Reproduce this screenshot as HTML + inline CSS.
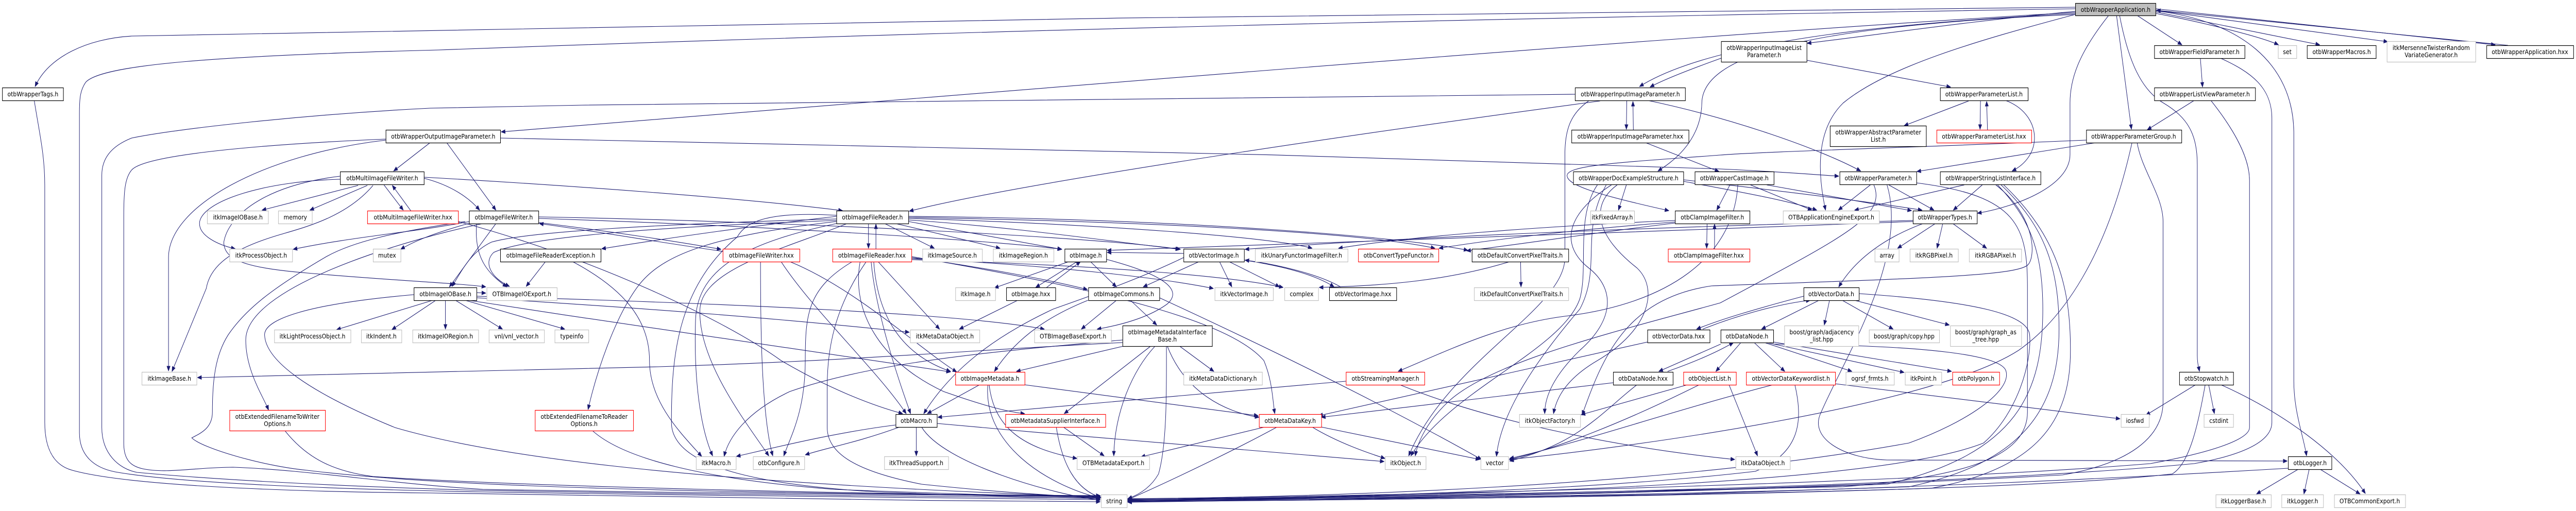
<!DOCTYPE html>
<html><head><meta charset="utf-8">
<style>
html,body{margin:0;padding:0;background:#fff;width:100%;height:100%;overflow:hidden;}
svg{display:block;width:100vw;height:100vh;}
.e path{fill:none;stroke:#191970;stroke-width:1.1;marker-end:url(#ah);}
.n rect{fill:#fff;stroke-width:1.2;}
.n .b{stroke:#000;}
.n .g{stroke:#bfbfbf;}
.n .r{stroke:#ff0000;}
.n .root{fill:#bfbfbf;stroke:#000;}
.n text{font-family:"DejaVu Sans","Liberation Sans",sans-serif;font-size:12.8px;fill:#000;text-anchor:middle;}
</style></head>
<body>
<svg viewBox="0 0 5870 992" preserveAspectRatio="none" xmlns="http://www.w3.org/2000/svg">
<defs>
<marker id="ah" viewBox="0 0 10 10" refX="10" refY="5" markerWidth="10" markerHeight="9" markerUnits="userSpaceOnUse" orient="auto">
<path d="M0,1 L10,5 L0,9z" fill="#191970" stroke="#191970"/>
</marker>
</defs>
<g class="e">
<path d="M4729,14 C3500,22 1500,45 300,70 C200,75 110,110 80,168"/>
<path d="M4729,17 C3800,30 2500,50 1000,97 C500,108 230,125 195,160 C183,175 181,190 181,220 L181,840 C181,885 215,908 262,916 C420,940 800,950 1100,955 C1600,962 2200,968 2507,970"/>
<path d="M4729,22 C4500,40 4300,65 4118,84"/>
<path d="M4732,26 C4300,45 3900,80 3736,168"/>
<path d="M4729,24 C3800,70 2400,170 1142,256"/>
<path d="M4735,28 C4100,50 3880,110 3878,200 C3876,280 3800,320 3778,332"/>
<path d="M4823,30 L4857,251"/>
<path d="M4870,30 L4972,87"/>
<path d="M4912,26 C5000,40 5150,70 5192,87"/>
<path d="M4912,23 L5286,87"/>
<path d="M4912,20 L5441,81"/>
<path d="M4912,17 L5686,87"/>
<path d="M5715,88 L4914,20"/>
<path d="M4912,21 C5100,40 5227,120 5227,260 L5227,740 C5227,800 5250,850 5256,885"/>
<path d="M4830,30 C4850,120 4880,175 4930,200 C4985,228 5007,260 5007,320 L5007,690 C5007,705 5010,712 5012,721"/>
<path d="M4729,28 C4500,80 4300,130 4200,200 C4140,250 4140,330 4160,408"/>
<path d="M4805,30 C4740,100 4717,150 4717,200 L4717,300 C4717,360 4600,400 4506,414"/>
<path d="M4117,117 L4445,169"/>
<path d="M3922,113 C3850,135 3790,155 3760,169"/>
<path d="M5014,113 L5019,169"/>
<path d="M5060,113 C5130,140 5177,170 5177,230 L5177,820 C5177,860 5100,885 5000,900 C4500,940 3500,962 2570,972"/>
<path d="M5000,195 L4893,252"/>
<path d="M5038,195 C5080,240 5126,300 5126,350 L5126,830 C5126,850 5060,875 4900,900 C4400,935 3400,958 2570,970"/>
<path d="M4486,196 L4339,244"/>
<path d="M4513,196 L4512,251"/>
<path d="M4529,252 L4527,197"/>
<path d="M4570,195 C4650,220 4660,300 4585,332"/>
<path d="M3707,195 L3706,251"/>
<path d="M3722,252 L3721,197"/>
<path d="M3755,195 C3950,230 4150,290 4240,332"/>
<path d="M3646,196 C3000,270 2300,360 2072,410"/>
<path d="M3589,183 C3000,185 1960,192 980,210 C700,222 400,250 300,268 C250,285 232,310 232,340 L232,830 C232,880 270,910 312,917 C500,932 800,945 1100,952 C1600,960 2200,966 2507,967"/>
<path d="M3620,196 C3580,220 3566,250 3566,300 L3566,500 C3566,600 3300,700 3210,885"/>
<path d="M3750,277 L3917,333"/>
<path d="M1018,277 L1130,408"/>
<path d="M1140,268 C2000,280 3000,300 3920,328 C4050,333 4120,338 4190,342"/>
<path d="M980,277 L897,332"/>
<path d="M879,272 C600,300 384,400 384,500 L384,720"/>
<path d="M879,270 C600,280 330,300 300,330 C285,345 282,370 282,420 L282,860 C282,895 300,905 325,910 C380,920 450,907 531,907 C700,912 900,940 1100,950 C1600,958 2200,962 2507,964"/>
<path d="M816,360 L597,408"/>
<path d="M837,360 L706,408"/>
<path d="M875,359 L919,408"/>
<path d="M936,409 L894,360"/>
<path d="M775,348 C600,352 465,390 455,430 C450,458 500,476 536,483"/>
<path d="M850,360 C790,420 700,440 640,455 C540,480 480,510 470,560 L392,721"/>
<path d="M966,346 C1030,360 1070,385 1093,408"/>
<path d="M966,344 C1300,360 1700,385 1920,409"/>
<path d="M775,342 C600,360 520,420 510,470 C510,505 560,520 700,530 C900,545 1050,550 1107,557"/>
<path d="M1100,434 C900,470 560,560 560,660 C560,720 600,770 612,796"/>
<path d="M1070,430 C950,450 800,460 668,484"/>
<path d="M1075,432 C1000,450 950,465 913,484"/>
<path d="M1130,434 L1024,557"/>
<path d="M1086,434 C1080,500 1110,530 1155,557"/>
<path d="M1227,432 C1400,450 1550,470 1643,484"/>
<path d="M1647,488 C1500,470 1350,448 1229,434"/>
<path d="M1227,424 C1800,440 2300,470 2420,484"/>
<path d="M1227,421 C1800,430 2500,460 2690,484"/>
<path d="M1060,430 C900,450 800,470 740,500 C620,560 560,600 520,650 C490,690 484,740 484,800 C484,830 460,840 437,850 C460,870 600,905 700,913 C1000,945 1600,958 2507,962"/>
<path d="M1044,430 C1350,500 1650,620 1780,700 C1900,760 2000,790 2057,803"/>
<path d="M1242,509 L1199,556"/>
<path d="M1305,508 C1420,560 1480,620 1480,700 C1480,780 1550,840 1599,886"/>
<path d="M1906,420 C1700,440 1500,465 1371,483"/>
<path d="M1979,434 L1979,482"/>
<path d="M1996,483 L1996,435"/>
<path d="M2016,434 L2129,482"/>
<path d="M2041,434 L2279,482"/>
<path d="M2070,430 L2419,484"/>
<path d="M2070,427 C2300,440 2500,465 2688,484"/>
<path d="M1906,430 C1600,460 1500,500 1450,560 C1400,620 1360,720 1340,795"/>
<path d="M1906,428 C1500,440 1200,460 1125,490 C1100,510 1120,540 1161,556"/>
<path d="M1906,425 C1500,435 1200,450 1120,470 C1070,490 1050,530 1030,556"/>
<path d="M1917,432 C1700,470 1590,520 1585,620 C1580,750 1600,840 1624,885"/>
<path d="M1930,434 C1800,480 1600,520 1595,600 C1590,700 1700,820 1752,885"/>
<path d="M1906,418 C1750,410 1700,430 1680,460 C1540,560 1530,700 1530,820 C1530,900 1700,940 2000,955 C2200,962 2400,966 2507,968"/>
<path d="M2070,422 C2600,430 3100,450 3270,482"/>
<path d="M2070,420 C2700,425 3200,460 3345,486"/>
<path d="M2070,424 C2500,435 2900,460 2990,482"/>
<path d="M1985,508 C1995,600 2040,720 2075,803"/>
<path d="M2001,508 L2141,639"/>
<path d="M1991,508 C2000,620 2060,690 2166,721"/>
<path d="M1942,508 C1840,560 1835,610 1835,700 C1835,800 1800,850 1786,885"/>
<path d="M1973,509 C1900,600 1885,680 1885,750 L1885,830 C1885,880 1950,915 2100,940 C2300,958 2450,964 2507,966"/>
<path d="M2077,500 C2250,520 2400,545 2478,562"/>
<path d="M2077,502 C2400,515 2650,540 2765,560"/>
<path d="M2077,504 C2500,515 2800,535 2924,558"/>
<path d="M1960,508 C1940,600 2000,700 2150,760 C2250,790 2300,800 2335,803"/>
<path d="M2077,498 C2500,560 2800,620 2880,700 C2900,740 2900,780 2905,803"/>
<path d="M1733,508 C1733,600 1733,800 1761,885"/>
<path d="M1800,508 C1950,560 2100,680 2180,722"/>
<path d="M1780,508 C1850,600 2000,720 2065,803"/>
<path d="M2435,508 L2266,559"/>
<path d="M2454,508 L2360,558"/>
<path d="M2385,558 L2462,508"/>
<path d="M2485,508 L2544,557"/>
<path d="M2519,503 C2640,530 2700,560 2660,590 C2620,615 2560,630 2500,639"/>
<path d="M2319,583 L2186,639"/>
<path d="M2544,583 L2464,639"/>
<path d="M2576,583 L2636,631"/>
<path d="M2479,583 C2400,610 2320,650 2266,721"/>
<path d="M2642,578 C2800,640 3100,760 3376,892"/>
<path d="M2779,508 L2807,557"/>
<path d="M2732,508 L2605,557"/>
<path d="M2801,508 L2916,557"/>
<path d="M2835,505 C2950,520 3010,540 3040,557"/>
<path d="M3055,557 C3000,530 2900,512 2837,505"/>
<path d="M2697,492 L2523,490"/>
<path d="M2697,500 C2600,540 2500,570 2400,600 C2300,640 2180,700 2105,803"/>
<path d="M2560,672 L2316,721"/>
<path d="M2688,672 L2766,721"/>
<path d="M2622,672 L2425,803"/>
<path d="M2632,672 C2580,720 2540,800 2538,885"/>
<path d="M2658,672 C2658,750 2660,860 2640,920 C2620,950 2590,962 2570,968"/>
<path d="M2660,672 C2700,760 2790,800 2869,810"/>
<path d="M2558,665 C2200,680 1960,700 1500,712 C1000,724 600,730 450,733"/>
<path d="M2232,747 L2113,803"/>
<path d="M2254,747 C2265,830 2330,870 2454,890"/>
<path d="M2251,747 C2240,860 2380,940 2507,967"/>
<path d="M2335,747 L2867,807"/>
<path d="M2088,829 L2088,885"/>
<path d="M2041,825 C1900,840 1760,870 1678,886"/>
<path d="M2050,829 C1950,860 1880,870 1835,883"/>
<path d="M2135,822 C2500,850 2900,880 3154,896"/>
<path d="M2100,829 C2150,900 2400,960 2507,971"/>
<path d="M2423,829 L2516,885"/>
<path d="M2407,829 C2420,900 2450,950 2509,966"/>
<path d="M2882,829 L2600,887"/>
<path d="M2910,829 C2800,880 2650,940 2570,970"/>
<path d="M3011,829 L3372,892"/>
<path d="M2990,829 C3050,860 3120,880 3156,890"/>
<path d="M3067,740 C2800,760 2400,790 2137,810"/>
<path d="M3190,747 C3400,820 3700,870 3953,892"/>
<path d="M3960,359 C3950,500 3800,590 3565,614 C3420,630 3300,680 3186,721"/>
<path d="M3465,508 L3466,557"/>
<path d="M3440,508 C3300,545 3150,555 3006,558"/>
<path d="M3890,434 L3889,482"/>
<path d="M3907,483 L3907,435"/>
<path d="M3817,428 C3500,440 3200,460 3050,482"/>
<path d="M3817,431 C3600,445 3400,465 3279,482"/>
<path d="M3817,433 C3650,450 3500,470 3342,487"/>
<path d="M3942,359 L3912,408"/>
<path d="M3989,359 L4129,408"/>
<path d="M4026,359 L4356,409"/>
<path d="M4754,272 C4400,285 4000,295 3920,301 C3700,315 3575,320 3571,340 C3568,360 3650,380 3803,409"/>
<path d="M4776,277 L4368,333"/>
<path d="M4870,277 C4880,330 4929,380 4929,430 L4929,780 C4929,850 4850,900 4700,922 C4000,955 3200,966 2570,974"/>
<path d="M4858,278 C4800,500 4700,620 4600,680 C4400,790 3700,870 3439,892"/>
<path d="M3706,359 L3688,408"/>
<path d="M3836,352 C3950,370 4080,390 4140,408"/>
<path d="M3836,349 C4000,365 4250,390 4380,408"/>
<path d="M3672,359 C3560,420 3560,480 3620,520 C3680,560 3680,620 3600,680 C3540,730 3520,770 3520,803"/>
<path d="M3685,359 C3620,400 3640,460 3730,520 C3780,560 3760,640 3640,700 C3560,740 3545,780 3540,803"/>
<path d="M3640,359 C3590,420 3620,520 3600,580 C3560,680 3300,760 3215,885"/>
<path d="M3660,359 C3600,450 3650,520 3600,600 C3500,700 3420,800 3410,886"/>
<path d="M4262,359 L4189,408"/>
<path d="M4304,359 L4407,408"/>
<path d="M4270,359 C4300,420 4200,460 3920,588 C3700,640 3400,700 3300,780 C3250,820 3230,860 3225,885"/>
<path d="M4367,355 C4600,380 4620,440 4620,560 L4620,800 C4620,880 4500,925 4200,945 C3500,962 3000,968 2570,973"/>
<path d="M4300,359 C4350,500 4200,700 4150,800 C4120,850 4200,890 4300,893 L5212,895"/>
<path d="M4476,359 L4226,408"/>
<path d="M4517,359 L4451,408"/>
<path d="M4552,359 C4620,420 4655,480 4655,600 C4655,760 4600,880 4300,940 C3600,962 3000,970 2570,971"/>
<path d="M4560,359 C4660,440 4692,520 4692,640 C4692,800 4600,900 4350,945 C3700,964 3000,970 2570,969"/>
<path d="M4566,359 C4690,460 4718,560 4718,680 C4718,820 4640,910 4400,948 C3700,966 3000,972 2570,972"/>
<path d="M4548,359 C4640,420 4640,500 4620,515 C4590,535 4400,540 3900,555 C3700,580 3650,700 3605,806"/>
<path d="M4410,434 L4324,482"/>
<path d="M4427,434 L4414,482"/>
<path d="M4450,434 L4527,482"/>
<path d="M4382,434 C4300,460 4230,500 4190,557"/>
<path d="M4359,428 C3800,440 3200,460 2837,484"/>
<path d="M4359,430 C3700,450 2900,480 2523,486"/>
<path d="M4110,575 C4000,600 3920,620 3866,639"/>
<path d="M3880,639 C3950,615 4050,590 4125,583"/>
<path d="M4145,583 L4014,639"/>
<path d="M4169,583 L4157,631"/>
<path d="M4198,583 L4314,639"/>
<path d="M4226,583 L4442,631"/>
<path d="M4236,570 C4500,585 4620,610 4625,650 C4630,700 4600,800 4520,860 C4300,935 3500,962 2570,970"/>
<path d="M3754,664 L3005,807"/>
<path d="M3676,743 L3011,810"/>
<path d="M3921,668 L3780,721"/>
<path d="M3800,721 C3870,700 3920,680 3950,665"/>
<path d="M3996,664 L4067,721"/>
<path d="M4021,665 L4220,721"/>
<path d="M4026,665 L4339,723"/>
<path d="M4041,664 L4447,721"/>
<path d="M3967,665 L3910,721"/>
<path d="M4041,668 C4400,670 4560,690 4571,720 C4585,760 4480,820 4350,860 C3800,945 3000,966 2570,968"/>
<path d="M3940,747 L4005,885"/>
<path d="M3872,747 C3700,820 3550,870 3440,892"/>
<path d="M3845,747 L3603,805"/>
<path d="M3730,747 C3650,800 3600,860 3440,895"/>
<path d="M4182,745 L4831,813"/>
<path d="M4090,747 C4110,820 4100,880 4000,915 C3600,955 3000,966 2570,972"/>
<path d="M4040,747 C3800,800 3600,860 3440,890"/>
<path d="M5003,747 L4890,806"/>
<path d="M5033,747 L5046,803"/>
<path d="M5061,747 C5200,800 5330,880 5390,958"/>
<path d="M5025,747 C5010,820 4990,900 4950,920 C4600,955 3500,968 2570,974"/>
<path d="M5237,911 L5142,959"/>
<path d="M5262,911 L5250,959"/>
<path d="M5287,911 L5378,959"/>
<path d="M5214,909 C4800,930 4400,945 3800,960 L2570,975"/>
<path d="M650,837 C700,890 760,915 850,925 C1200,945 2000,960 2507,963"/>
<path d="M1350,836 C1420,890 1600,930 1900,950 C2200,960 2400,964 2507,966"/>
<path d="M986,583 L767,640"/>
<path d="M993,583 L893,640"/>
<path d="M1015,583 L1015,639"/>
<path d="M1038,583 L1145,639"/>
<path d="M1060,583 L1287,639"/>
<path d="M1086,568 L1107,569"/>
<path d="M1068,583 C1500,640 2000,700 2166,722"/>
<path d="M943,572 C700,590 600,620 603,651 C606,700 700,760 900,830 C1100,880 1500,935 2507,965"/>
<path d="M1086,578 C1500,600 1800,620 2072,645"/>
<path d="M1086,575 C1700,590 2200,610 2380,639"/>
<path d="M78,195 C90,260 102,300 102,360 L102,820 C102,880 130,905 165,913 C300,945 700,955 980,957 C1500,965 2000,972 2507,974"/>
<path d="M2558,660 C2300,680 2000,700 1800,760 C1700,800 1660,850 1650,886"/>
</g>
<g class="n">
<rect class="root" x="4729.5" y="6.5" width="183" height="24"/><text x="4821" y="23">otbWrapperApplication.h</text>
<rect class="b" x="3922.5" y="80.5" width="195" height="40"/><text x="4020" y="97">otbWrapperInputImageList</text><text x="4020" y="111">Parameter.h</text>
<rect class="b" x="4909.5" y="88.5" width="206" height="25"/><text x="5012" y="105">otbWrapperFieldParameter.h</text>
<rect class="g" x="5191.5" y="88.5" width="42" height="25"/><text x="5212" y="105">set</text>
<rect class="b" x="5257.5" y="88.5" width="157" height="25"/><text x="5336" y="105">otbWrapperMacros.h</text>
<rect class="g" x="5439.5" y="80.5" width="202" height="40"/><text x="5540" y="97">itkMersenneTwisterRandom</text><text x="5540" y="111">VariateGenerator.h</text>
<rect class="b" x="5666.5" y="88.5" width="198" height="25"/><text x="5765" y="105">otbWrapperApplication.hxx</text>
<rect class="b" x="5.5" y="170.5" width="139" height="25"/><text x="75" y="187">otbWrapperTags.h</text>
<rect class="b" x="3589.5" y="170.5" width="251" height="25"/><text x="3715" y="187">otbWrapperInputImageParameter.h</text>
<rect class="b" x="4421.5" y="170.5" width="200" height="25"/><text x="4521" y="187">otbWrapperParameterList.h</text>
<rect class="b" x="4909.5" y="170.5" width="230" height="25"/><text x="5024" y="187">otbWrapperListViewParameter.h</text>
<rect class="b" x="879.5" y="252.5" width="261" height="25"/><text x="1010" y="269">otbWrapperOutputImageParameter.h</text>
<rect class="b" x="3581.5" y="252.5" width="267" height="25"/><text x="3715" y="269">otbWrapperInputImageParameter.hxx</text>
<rect class="b" x="4170.5" y="244.5" width="219" height="40"/><text x="4280" y="261">otbWrapperAbstractParameter</text><text x="4280" y="275">List.h</text>
<rect class="r" x="4413.5" y="252.5" width="216" height="25"/><text x="4521" y="269">otbWrapperParameterList.hxx</text>
<rect class="b" x="4754.5" y="252.5" width="217" height="25"/><text x="4862" y="269">otbWrapperParameterGroup.h</text>
<rect class="b" x="775.5" y="333.5" width="191" height="25"/><text x="871" y="350">otbMultiImageFileWriter.h</text>
<rect class="b" x="3585.5" y="333.5" width="251" height="25"/><text x="3711" y="350">otbWrapperDocExampleStructure.h</text>
<rect class="b" x="3862.5" y="333.5" width="180" height="25"/><text x="3952" y="350">otbWrapperCastImage.h</text>
<rect class="b" x="4192.5" y="333.5" width="175" height="25"/><text x="4280" y="350">otbWrapperParameter.h</text>
<rect class="b" x="4421.5" y="333.5" width="229" height="25"/><text x="4536" y="350">otbWrapperStringListInterface.h</text>
<rect class="g" x="472.5" y="409.5" width="139" height="25"/><text x="542" y="426">itkImageIOBase.h</text>
<rect class="g" x="634.5" y="409.5" width="77" height="25"/><text x="673" y="426">memory</text>
<rect class="r" x="837.5" y="409.5" width="207" height="25"/><text x="941" y="426">otbMultiImageFileWriter.hxx</text>
<rect class="b" x="1069.5" y="409.5" width="158" height="25"/><text x="1148" y="426">otbImageFileWriter.h</text>
<rect class="b" x="1906.5" y="409.5" width="164" height="25"/><text x="1988" y="426">otbImageFileReader.h</text>
<rect class="g" x="3624.5" y="409.5" width="100" height="25"/><text x="3674" y="426">itkFixedArray.h</text>
<rect class="b" x="3817.5" y="409.5" width="170" height="25"/><text x="3902" y="426">otbClampImageFilter.h</text>
<rect class="g" x="4063.5" y="409.5" width="219" height="25"/><text x="4173" y="426">OTBApplicationEngineExport.h</text>
<rect class="b" x="4359.5" y="409.5" width="146" height="25"/><text x="4432" y="426">otbWrapperTypes.h</text>
<rect class="g" x="523.5" y="483.5" width="143" height="25"/><text x="595" y="500">itkProcessObject.h</text>
<rect class="g" x="850.5" y="483.5" width="63" height="25"/><text x="882" y="500">mutex</text>
<rect class="b" x="1140.5" y="483.5" width="229" height="25"/><text x="1255" y="500">otbImageFileReaderException.h</text>
<rect class="r" x="1647.5" y="483.5" width="175" height="25"/><text x="1735" y="500">otbImageFileWriter.hxx</text>
<rect class="r" x="1897.5" y="483.5" width="180" height="25"/><text x="1987" y="500">otbImageFileReader.hxx</text>
<rect class="g" x="2102.5" y="483.5" width="136" height="25"/><text x="2170" y="500">itkImageSource.h</text>
<rect class="g" x="2263.5" y="483.5" width="138" height="25"/><text x="2332" y="500">itkImageRegion.h</text>
<rect class="b" x="2426.5" y="483.5" width="95" height="25"/><text x="2474" y="500">otbImage.h</text>
<rect class="b" x="2697.5" y="483.5" width="138" height="25"/><text x="2766" y="500">otbVectorImage.h</text>
<rect class="g" x="2860.5" y="483.5" width="211" height="25"/><text x="2966" y="500">itkUnaryFunctorImageFilter.h</text>
<rect class="r" x="3095.5" y="483.5" width="183" height="25"/><text x="3187" y="500">otbConvertTypeFunctor.h</text>
<rect class="b" x="3354.5" y="483.5" width="220" height="25"/><text x="3464" y="500">otbDefaultConvertPixelTraits.h</text>
<rect class="r" x="3801.5" y="483.5" width="186" height="25"/><text x="3894" y="500">otbClampImageFilter.hxx</text>
<rect class="g" x="4272.5" y="483.5" width="55" height="25"/><text x="4300" y="500">array</text>
<rect class="g" x="4352.5" y="483.5" width="110" height="25"/><text x="4407" y="500">itkRGBPixel.h</text>
<rect class="g" x="4487.5" y="483.5" width="119" height="25"/><text x="4547" y="500">itkRGBAPixel.h</text>
<rect class="b" x="943.5" y="558.5" width="143" height="25"/><text x="1015" y="575">otbImageIOBase.h</text>
<rect class="g" x="1109.5" y="558.5" width="160" height="25"/><text x="1189" y="575">OTBImageIOExport.h</text>
<rect class="g" x="2177.5" y="558.5" width="91" height="25"/><text x="2223" y="575">itkImage.h</text>
<rect class="b" x="2293.5" y="558.5" width="112" height="25"/><text x="2349" y="575">otbImage.hxx</text>
<rect class="b" x="2480.5" y="558.5" width="162" height="25"/><text x="2561" y="575">otbImageCommons.h</text>
<rect class="g" x="2768.5" y="558.5" width="133" height="25"/><text x="2835" y="575">itkVectorImage.h</text>
<rect class="g" x="2927.5" y="558.5" width="77" height="25"/><text x="2966" y="575">complex</text>
<rect class="b" x="3029.5" y="558.5" width="153" height="25"/><text x="3106" y="575">otbVectorImage.hxx</text>
<rect class="g" x="3359.5" y="558.5" width="215" height="25"/><text x="3467" y="575">itkDefaultConvertPixelTraits.h</text>
<rect class="b" x="4110.5" y="558.5" width="126" height="25"/><text x="4173" y="575">otbVectorData.h</text>
<rect class="g" x="625.5" y="640.5" width="174" height="25"/><text x="712" y="657">itkLightProcessObject.h</text>
<rect class="g" x="823.5" y="640.5" width="92" height="25"/><text x="869" y="657">itkIndent.h</text>
<rect class="g" x="940.5" y="640.5" width="150" height="25"/><text x="1015" y="657">itkImageIORegion.h</text>
<rect class="g" x="1114.5" y="640.5" width="126" height="25"/><text x="1177" y="657">vnl/vnl_vector.h</text>
<rect class="g" x="1264.5" y="640.5" width="77" height="25"/><text x="1303" y="657">typeinfo</text>
<rect class="g" x="2074.5" y="640.5" width="158" height="25"/><text x="2153" y="657">itkMetaDataObject.h</text>
<rect class="g" x="2357.5" y="640.5" width="175" height="25"/><text x="2445" y="657">OTBImageBaseExport.h</text>
<rect class="b" x="2558.5" y="632.5" width="204" height="40"/><text x="2660" y="649">otbImageMetadataInterface</text><text x="2660" y="663">Base.h</text>
<rect class="b" x="3754.5" y="640.5" width="142" height="25"/><text x="3825" y="657">otbVectorData.hxx</text>
<rect class="b" x="3921.5" y="640.5" width="120" height="25"/><text x="3981" y="657">otbDataNode.h</text>
<rect class="g" x="4066.5" y="632.5" width="169" height="40"/><text x="4151" y="649">boost/graph/adjacency</text><text x="4151" y="663">_list.hpp</text>
<rect class="g" x="4259.5" y="640.5" width="160" height="25"/><text x="4339" y="657">boost/graph/copy.hpp</text>
<rect class="g" x="4444.5" y="632.5" width="162" height="40"/><text x="4525" y="649">boost/graph/graph_as</text><text x="4525" y="663">_tree.hpp</text>
<rect class="g" x="323.5" y="722.5" width="125" height="25"/><text x="386" y="739">itkImageBase.h</text>
<rect class="r" x="2177.5" y="722.5" width="158" height="25"/><text x="2256" y="739">otbImageMetadata.h</text>
<rect class="g" x="2697.5" y="722.5" width="179" height="25"/><text x="2787" y="739">itkMetaDataDictionary.h</text>
<rect class="r" x="3067.5" y="722.5" width="179" height="25"/><text x="3157" y="739">otbStreamingManager.h</text>
<rect class="b" x="3676.5" y="722.5" width="136" height="25"/><text x="3744" y="739">otbDataNode.hxx</text>
<rect class="r" x="3836.5" y="722.5" width="120" height="25"/><text x="3896" y="739">otbObjectList.h</text>
<rect class="r" x="3979.5" y="722.5" width="203" height="25"/><text x="4081" y="739">otbVectorDataKeywordlist.h</text>
<rect class="g" x="4206.5" y="722.5" width="110" height="25"/><text x="4261" y="739">ogrsf_frmts.h</text>
<rect class="g" x="4341.5" y="722.5" width="83" height="25"/><text x="4383" y="739">itkPoint.h</text>
<rect class="r" x="4449.5" y="722.5" width="107" height="25"/><text x="4503" y="739">otbPolygon.h</text>
<rect class="b" x="4966.5" y="722.5" width="123" height="25"/><text x="5028" y="739">otbStopwatch.h</text>
<rect class="r" x="523.5" y="796.5" width="218" height="40"/><text x="632" y="813">otbExtendedFilenameToWriter</text><text x="632" y="827">Options.h</text>
<rect class="r" x="1219.5" y="796.5" width="224" height="40"/><text x="1331" y="813">otbExtendedFilenameToReader</text><text x="1331" y="827">Options.h</text>
<rect class="b" x="2041.5" y="804.5" width="94" height="25"/><text x="2088" y="821">otbMacro.h</text>
<rect class="r" x="2291.5" y="804.5" width="228" height="25"/><text x="2405" y="821">otbMetadataSupplierInterface.h</text>
<rect class="r" x="2869.5" y="804.5" width="142" height="25"/><text x="2940" y="821">otbMetaDataKey.h</text>
<rect class="g" x="3462.5" y="804.5" width="139" height="25"/><text x="3532" y="821">itkObjectFactory.h</text>
<rect class="g" x="4833.5" y="804.5" width="64" height="25"/><text x="4865" y="821">iosfwd</text>
<rect class="g" x="5022.5" y="804.5" width="67" height="25"/><text x="5056" y="821">cstdint</text>
<rect class="g" x="1586.5" y="886.5" width="91" height="25"/><text x="1632" y="903">itkMacro.h</text>
<rect class="g" x="1716.5" y="886.5" width="117" height="25"/><text x="1775" y="903">otbConfigure.h</text>
<rect class="g" x="2015.5" y="886.5" width="146" height="25"/><text x="2088" y="903">itkThreadSupport.h</text>
<rect class="g" x="2454.5" y="886.5" width="165" height="25"/><text x="2537" y="903">OTBMetadataExport.h</text>
<rect class="g" x="3156.5" y="886.5" width="93" height="25"/><text x="3203" y="903">itkObject.h</text>
<rect class="g" x="3374.5" y="886.5" width="63" height="25"/><text x="3406" y="903">vector</text>
<rect class="g" x="3955.5" y="886.5" width="124" height="25"/><text x="4017" y="903">itkDataObject.h</text>
<rect class="b" x="5214.5" y="886.5" width="99" height="25"/><text x="5264" y="903">otbLogger.h</text>
<rect class="g" x="2509.5" y="960.5" width="59" height="25"/><text x="2539" y="977">string</text>
<rect class="g" x="5049.5" y="960.5" width="126" height="25"/><text x="5112" y="977">itkLoggerBase.h</text>
<rect class="g" x="5199.5" y="960.5" width="95" height="25"/><text x="5247" y="977">itkLogger.h</text>
<rect class="g" x="5319.5" y="960.5" width="162" height="25"/><text x="5400" y="977">OTBCommonExport.h</text>
</g>
</svg>
</body></html>
